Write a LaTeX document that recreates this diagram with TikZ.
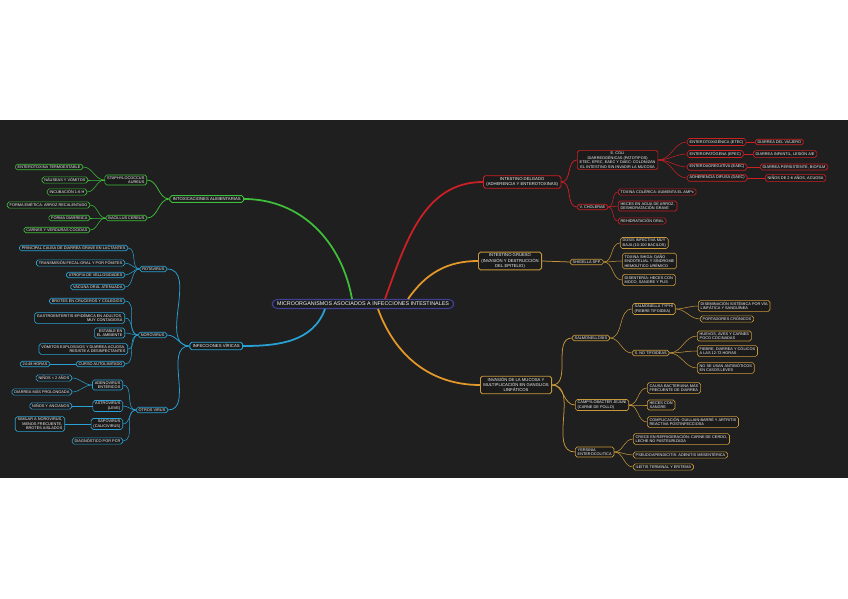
\documentclass[tikz,border=0pt]{standalone}
\usepackage{fontspec}
\setmainfont{Liberation Sans}
\usetikzlibrary{calc}
\definecolor{bgdark}{RGB}{31,31,31}
\definecolor{nodefill}{RGB}{27,27,27}
\definecolor{txtgray}{RGB}{245,245,245}
\definecolor{ctrblue}{RGB}{62,64,150}
\definecolor{grnbr}{RGB}{62,190,58}
\definecolor{bluebr}{RGB}{40,162,212}
\definecolor{redbr}{RGB}{205,32,36}
\definecolor{orgbr}{RGB}{228,152,42}
\definecolor{goldbr}{RGB}{200,152,58}

\begin{document}
\begin{tikzpicture}[x=0.03cm, y=-0.03cm,
  box/.style={draw=#1, fill=nodefill, text=txtgray, rounded corners=1.6pt, line width=0.55pt,
    inner xsep=2pt, inner ysep=1.2pt, font=\fontsize{3.3}{3.9}\selectfont},
  lside/.style={box=#1, anchor=east, align=right},
  rside/.style={box=#1, anchor=west, align=left},
  lvone/.style={box=#1, line width=0.75pt, align=center, inner xsep=2.5pt, inner ysep=1.6pt, font=\fontsize{3.6}{4.3}\selectfont},
  ctr/.style={box=ctrblue, line width=0.9pt, rounded corners=4pt, inner xsep=4pt, inner ysep=2.2pt, font=\fontsize{4.6}{5}\selectfont},
  trunk/.style={draw=#1, line width=1.5pt},
  twig/.style={draw=#1, line width=0.65pt},
  leafln/.style={draw=#1, line width=0.45pt}]

  % Page and dark canvas
  \useasboundingbox (0,0) rectangle (848,599);
  \fill[white] (0,0) rectangle (848,599);
  \fill[bgdark] (0,120) rectangle (848,478);

  % Central topic
  \node[ctr] (ctr) at (363,304) {MICROORGANISMOS ASOCIADOS A INFECCIONES INTESTINALES};

  % Green branch: intoxicaciones
  \node[lvone=grnbr, anchor=east] (intox) at (244,199) {INTOXICACIONES ALIMENTARIAS};
  \node[lside=grnbr] (staph) at (147,180) {STAPHYLOCOCCUS\\AUREUS};
  \node[lside=grnbr] (staph1) at (83,167) {ENTEROTOXINA TERMOESTABLE};
  \node[lside=grnbr] (staph2) at (88,180) {NÁUSEAS Y VÓMITOS};
  \node[lside=grnbr] (staph3) at (87,192) {INCUBACIÓN 1-6 H};
  \node[lside=grnbr] (bacil) at (147,218) {BACILLUS CEREUS};
  \node[lside=grnbr] (bacil1) at (90,205) {FORMA EMÉTICA: ARROZ RECALENTADO};
  \node[lside=grnbr] (bacil2) at (90,218) {FORMA DIARREICA};
  \node[lside=grnbr] (bacil3) at (90,230) {CARNES Y VERDURAS COCIDAS};

  % Blue branch: virus
  \node[lvone=bluebr, anchor=east] (vir) at (243,346) {INFECCIONES VÍRICAS};
  \node[lside=bluebr] (rota) at (167,269) {ROTAVIRUS};
  \node[lside=bluebr] (rota1) at (128,248) {PRINCIPAL CAUSA DE DIARREA GRAVE EN LACTANTES};
  \node[lside=bluebr] (rota2) at (125,263) {TRANSMISIÓN FECAL-ORAL Y POR FÓMITES};
  \node[lside=bluebr] (rota3) at (125,275) {ATROFIA DE VELLOSIDADES};
  \node[lside=bluebr] (rota4) at (125,287) {VACUNA ORAL ATENUADA};
  \node[lside=bluebr] (noro) at (167,335) {NOROVIRUS};
  \node[lside=bluebr] (noro1) at (125,301) {BROTES EN CRUCEROS Y COLEGIOS};
  \node[lside=bluebr] (noro2) at (125,318) {GASTROENTERITIS EPIDÉMICA EN ADULTOS,\\MUY CONTAGIOSA};
  \node[lside=bluebr] (noro3) at (125,333) {ESTABLE EN\\EL AMBIENTE};
  \node[lside=bluebr] (noro4) at (128,349) {VÓMITOS EXPLOSIVOS Y DIARREA ACUOSA,\\RESISTE A DESINFECTANTES};
  \node[lside=bluebr] (noro5) at (125,364) {CURSO AUTOLIMITADO};
  \node[lside=bluebr] (noro5a) at (50,364) {24-48 HORAS};
  \node[lside=bluebr] (otros) at (168,410) {OTROS VIRUS};
  \node[lside=bluebr] (adeno) at (123,385) {ADENOVIRUS\\ENTÉRICOS};
  \node[lside=bluebr] (adeno1) at (72,378) {NIÑOS < 2 AÑOS};
  \node[lside=bluebr] (adeno2) at (72,392) {DIARREA MÁS PROLONGADA};
  \node[lside=bluebr] (astro) at (123,406) {ASTROVIRUS\\(LEVE)};
  \node[lside=bluebr] (astro1) at (72,406) {NIÑOS Y ANCIANOS};
  \node[lside=bluebr] (sapo) at (123,424) {SAPOVIRUS\\(CALICIVIRUS)};
  \node[lside=bluebr] (sapo1) at (65,424) {SIMILAR A NOROVIRUS,\\MENOS FRECUENTE,\\BROTES AISLADOS};
  \node[lside=bluebr] (diag) at (123,441) {DIAGNÓSTICO POR PCR};

  % Red branch: intestino delgado
  \node[lvone=redbr, anchor=west] (delg) at (483,182) {INTESTINO DELGADO\\(ADHERENCIA Y ENTEROTOXINAS)};
  \node[rside=redbr, align=center] (ecoli) at (577,160) {E. COLI\\DIARREOGÉNICAS (PATOTIPOS)\\ETEC, EPEC, EAEC Y DAEC: COLONIZAN\\EL INTESTINO SIN INVADIR LA MUCOSA};
  \node[rside=redbr] (etec) at (687,142) {ENTEROTOXIGÉNICA (ETEC)};
  \node[rside=redbr] (etec1) at (755,142) {DIARREA DEL VIAJERO};
  \node[rside=redbr] (epec) at (687,154) {ENTEROPATÓGENA (EPEC)};
  \node[rside=redbr] (epec1) at (753,154) {DIARREA INFANTIL, LESIÓN A/E};
  \node[rside=redbr] (eaec) at (687,167) {ENTEROAGREGATIVA (EAEC)};
  \node[rside=redbr] (eaec1) at (760,167) {DIARREA PERSISTENTE, BIOFILM};
  \node[rside=redbr] (daec) at (687,178) {ADHERENCIA DIFUSA (DAEC)};
  \node[rside=redbr] (daec1) at (765,178) {NIÑOS DE 2-6 AÑOS, ACUOSA};
  \node[rside=redbr] (chol) at (577,207) {V. CHOLERAE};
  \node[rside=redbr] (chol1) at (618,192) {TOXINA COLÉRICA: AUMENTA EL AMPc};
  \node[rside=redbr] (chol2) at (618,206) {HECES EN AGUA DE ARROZ,\\DESHIDRATACIÓN GRAVE};
  \node[rside=redbr] (chol3) at (618,221) {REHIDRATACIÓN ORAL};

  % Orange branch: intestino grueso
  \node[lvone=goldbr, anchor=west] (grueso) at (478,261) {INTESTINO GRUESO\\(INVASIÓN Y DESTRUCCIÓN\\DEL EPITELIO)};
  \node[rside=goldbr] (shig) at (570,262) {SHIGELLA SPP.};
  \node[rside=goldbr] (shig1) at (620,243) {DOSIS INFECTIVA MUY\\BAJA (10-100 BACILOS)};
  \node[rside=goldbr] (shig2) at (622,261) {TOXINA SHIGA: DAÑO\\ENDOTELIAL Y SÍNDROME\\HEMOLÍTICO URÉMICO};
  \node[rside=goldbr] (shig3) at (622,280) {DISENTERÍA: HECES CON\\MOCO, SANGRE Y PUS};

  % Orange branch: invasion y ganglios
  \node[lvone=goldbr, anchor=west] (inv) at (480,385) {INVASIÓN DE LA MUCOSA Y\\MULTIPLICACIÓN EN GANGLIOS\\LINFÁTICOS};
  \node[rside=goldbr] (salm) at (572,338) {SALMONELLOSIS};
  \node[rside=goldbr] (typhi) at (632,309) {SALMONELLA TYPHI\\(FIEBRE TIFOIDEA)};
  \node[rside=goldbr] (typhi1) at (698,306) {DISEMINACIÓN SISTÉMICA POR VÍA\\LINFÁTICA Y SANGUÍNEA};
  \node[rside=goldbr] (typhi2) at (700,319) {PORTADORES CRÓNICOS};
  \node[rside=goldbr] (notif) at (632,353) {S. NO TIFOIDEAS};
  \node[rside=goldbr] (notif1) at (697,336) {HUEVOS, AVES Y CARNES\\POCO COCINADAS};
  \node[rside=goldbr] (notif2) at (697,351) {FIEBRE, DIARREA Y CÓLICOS\\A LAS 12-72 HORAS};
  \node[rside=goldbr] (notif3) at (697,368) {NO SE USAN ANTIBIÓTICOS\\EN CASOS LEVES};
  \node[rside=goldbr] (campy) at (575,405) {CAMPYLOBACTER JEJUNI\\(CARNE DE POLLO)};
  \node[rside=goldbr] (campy1) at (647,388) {CAUSA BACTERIANA MÁS\\FRECUENTE DE DIARREA};
  \node[rside=goldbr] (campy2) at (647,405) {HECES CON\\SANGRE};
  \node[rside=goldbr] (campy3) at (647,422) {COMPLICACIÓN: GUILLAIN-BARRÉ Y ARTRITIS\\REACTIVA POSTINFECCIOSA};
  \node[rside=goldbr] (yers) at (575,452) {YERSINIA\\ENTEROCOLITICA};
  \node[rside=goldbr] (yers1) at (633,439) {CRECE EN REFRIGERACIÓN: CARNE DE CERDO,\\LECHE NO PASTEURIZADA};
  \node[rside=goldbr] (yers2) at (633,455) {PSEUDOAPENDICITIS: ADENITIS MESENTÉRICA};
  \node[rside=goldbr] (yers3) at (633,467) {ILEÍTIS TERMINAL Y ERITEMA};

  % Trunks from the central topic
  \draw[trunk=grnbr] ($(ctr.north)+(-11,0)$) to[out=100,in=0] (intox.east);
  \draw[trunk=redbr] ($(ctr.north)+(22,0)$) to[out=70,in=180] (delg.west);
  \draw[trunk=orgbr] ($(ctr.north)+(45,0)$) to[out=55,in=180] (grueso.west);
  \draw[trunk=bluebr] ($(ctr.south)+(-38,0)$) to[out=-110,in=0] (vir.east);
  \draw[trunk=orgbr] ($(ctr.south)+(15,0)$) to[out=-70,in=180] (inv.west);

  % Left side connectors
  \foreach \c in {staph,bacil} \draw[twig=grnbr] (intox.west) to[out=180,in=0] (\c.east);
  \foreach \c in {staph1,staph2,staph3} \draw[leafln=grnbr] (staph.west) to[out=180,in=0] (\c.east);
  \foreach \c in {bacil1,bacil2,bacil3} \draw[leafln=grnbr] (bacil.west) to[out=180,in=0] (\c.east);
  \foreach \c in {rota,noro,otros} \draw[twig=bluebr] (vir.west) to[out=180,in=0] (\c.east);
  \foreach \c in {rota1,rota2,rota3,rota4} \draw[leafln=bluebr] (rota.west) to[out=180,in=0] (\c.east);
  \foreach \c in {noro1,noro2,noro3,noro4,noro5} \draw[leafln=bluebr] (noro.west) to[out=180,in=0] (\c.east);
  \draw[leafln=bluebr] (noro5.west) -- (noro5a.east);
  \foreach \c in {adeno,astro,sapo,diag} \draw[leafln=bluebr] (otros.west) to[out=180,in=0] (\c.east);
  \foreach \c in {adeno1,adeno2} \draw[leafln=bluebr] (adeno.west) to[out=180,in=0] (\c.east);
  \draw[leafln=bluebr] (astro.west) -- (astro1.east);
  \draw[leafln=bluebr] (sapo.west) -- (sapo1.east);

  % Right side connectors
  \foreach \c in {ecoli,chol} \draw[twig=redbr] (delg.east) to[out=0,in=180] (\c.west);
  \foreach \c in {etec,epec,eaec,daec} \draw[leafln=redbr] (ecoli.east) to[out=0,in=180] (\c.west);
  \draw[leafln=redbr] (etec.east) -- (etec1.west);
  \draw[leafln=redbr] (epec.east) -- (epec1.west);
  \draw[leafln=redbr] (eaec.east) -- (eaec1.west);
  \draw[leafln=redbr] (daec.east) -- (daec1.west);
  \foreach \c in {chol1,chol2,chol3} \draw[leafln=redbr] (chol.east) to[out=0,in=180] (\c.west);
  \draw[twig=goldbr] (grueso.east) -- (shig.west);
  \foreach \c in {shig1,shig2,shig3} \draw[leafln=goldbr] (shig.east) to[out=0,in=180] (\c.west);
  \foreach \c in {salm,campy,yers} \draw[twig=goldbr] (inv.east) to[out=0,in=180] (\c.west);
  \foreach \c in {typhi,notif} \draw[leafln=goldbr] (salm.east) to[out=0,in=180] (\c.west);
  \foreach \c in {typhi1,typhi2} \draw[leafln=goldbr] (typhi.east) to[out=0,in=180] (\c.west);
  \foreach \c in {notif1,notif2,notif3} \draw[leafln=goldbr] (notif.east) to[out=0,in=180] (\c.west);
  \foreach \c in {campy1,campy2,campy3} \draw[leafln=goldbr] (campy.east) to[out=0,in=180] (\c.west);
  \foreach \c in {yers1,yers2,yers3} \draw[leafln=goldbr] (yers.east) to[out=0,in=180] (\c.west);
\end{tikzpicture}
\end{document}
